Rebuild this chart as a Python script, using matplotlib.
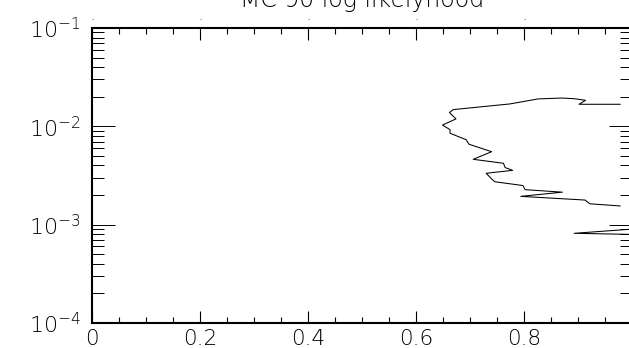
import matplotlib
matplotlib.use("Agg")
import matplotlib.pyplot as plt
import numpy as np
from matplotlib.ticker import FixedLocator, FuncFormatter, LogLocator, NullFormatter

# trace of the likelihood contour (x fraction, y probability); NaN breaks the line
frac = [0.978, 0.902, 0.914, 0.893, 0.870, 0.826, 0.774, 0.669, 0.662, 0.674,
        0.649, 0.663, 0.663, 0.693, 0.698, 0.740, 0.706, 0.762, 0.765, 0.779,
        0.730, 0.740, 0.746, 0.798, 0.802, 0.871, 0.794, 0.913, 0.922, 0.978,
        np.nan, 0.995, 0.893, 0.995]
prob = [1.676e-2, 1.676e-2, 1.84e-2, 1.91e-2, 1.94e-2, 1.90e-2, 1.69e-2, 1.48e-2,
        1.38e-2, 1.19e-2, 1.03e-2, 9.25e-3, 8.50e-3, 7.31e-3, 6.58e-3, 5.52e-3,
        4.62e-3, 4.21e-3, 3.81e-3, 3.57e-3, 3.33e-3, 2.92e-3, 2.73e-3, 2.50e-3,
        2.27e-3, 2.14e-3, 1.94e-3, 1.78e-3, 1.63e-3, 1.55e-3,
        np.nan, 8.97e-4, 8.17e-4, 7.97e-4]

x_major = [0.0, 0.2, 0.4, 0.6, 0.8]
x_labels = ["0", "0.2", "0.4", "0.6", "0.8"]
y_major = [1e-4, 1e-3, 1e-2, 1e-1]

fig = plt.figure(figsize=(6.29, 3.48), dpi=100)
W, H = 629, 348
ax = fig.add_axes([92 / W, 25 / H, 540 / W, 295 / H])

ax.plot(frac, prob, color="black", linewidth=0.75)

ax.set_xlim(0, 1.0)
ax.set_yscale("log")
ax.set_ylim(1e-4, 1e-1)

for s in ax.spines.values():
    s.set_linewidth(1.5)

ax.xaxis.set_major_locator(FixedLocator(x_major))
ax.xaxis.set_minor_locator(FixedLocator(np.arange(0, 1.0, 0.05)))
ax.xaxis.set_major_formatter(FuncFormatter(lambda v, p: x_labels[p] if p is not None and p < len(x_labels) else ""))
ax.yaxis.set_major_locator(FixedLocator(y_major))
ax.yaxis.set_minor_locator(LogLocator(base=10, subs=np.arange(2, 10)))
ax.yaxis.set_minor_formatter(NullFormatter())
ax.yaxis.set_major_formatter(FuncFormatter(lambda v, p: r"$\mathregular{10^{%d}}$" % round(np.log10(v))))

ax.tick_params(axis="x", which="major", direction="in", length=8.6, width=0.8,
               top=True, bottom=True, labelsize=15.5, pad=4)
ax.tick_params(axis="x", which="minor", direction="in", length=4.3, width=0.8,
               top=True, bottom=True)
ax.tick_params(axis="y", which="major", direction="in", length=16.5, width=0.7,
               left=True, right=True, labelsize=16, pad=8)
ax.tick_params(axis="y", which="minor", direction="in", length=8.6, width=0.7,
               left=True, right=True)
for lab in ax.get_xticklabels() + ax.get_yticklabels():
    lab.set_fontweight("light")

# small markers above the top axis at the major ticks
top = ax.secondary_xaxis("top")
top.xaxis.set_major_locator(FixedLocator(x_major))
top.xaxis.set_major_formatter(FuncFormatter(lambda v, p: "."))
top.tick_params(length=0, labelsize=5, pad=5)
top.spines["top"].set_visible(False)

fig.text(362 / W, 1 - 7 / H, "MC 90 log likelyhood", ha="center", va="baseline",
         fontsize=17, fontweight="light")

fig.savefig("out.png", dpi=100)
